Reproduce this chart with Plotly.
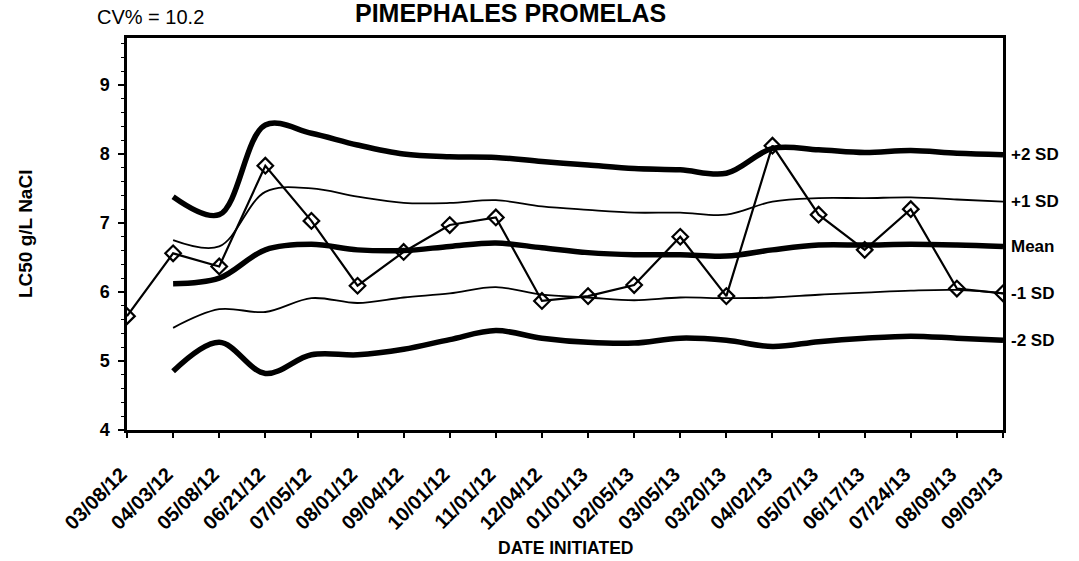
import plotly.graph_objects as go

dates = ["03/08/12", "04/03/12", "05/08/12", "06/21/12", "07/05/12", "08/01/12",
         "09/04/12", "10/01/12", "11/01/12", "12/04/12", "01/01/13", "02/05/13",
         "03/05/13", "03/20/13", "04/02/13", "05/07/13", "06/17/13", "07/24/13",
         "08/09/13", "09/03/13"]

lc50 = [5.65, 6.56, 6.37, 7.83, 7.03, 6.09, 6.58, 6.97, 7.08, 5.87, 5.94, 6.10,
        6.80, 5.94, 8.12, 7.12, 6.61, 7.20, 6.05, 5.98]

ctrl_dates = dates[1:]
plus2 = [7.38, 7.12, 8.42, 8.30, 8.13, 8.00, 7.96, 7.95, 7.89, 7.84, 7.79, 7.77,
         7.72, 8.08, 8.06, 8.02, 8.05, 8.01, 7.99]
plus1 = [6.75, 6.66, 7.45, 7.50, 7.38, 7.29, 7.29, 7.33, 7.24, 7.19, 7.15, 7.15,
         7.12, 7.31, 7.36, 7.36, 7.37, 7.34, 7.31]
mean = [6.12, 6.20, 6.61, 6.69, 6.61, 6.60, 6.66, 6.71, 6.64, 6.57, 6.54, 6.54,
        6.52, 6.61, 6.68, 6.68, 6.69, 6.68, 6.66]
minus1 = [5.48, 5.75, 5.71, 5.91, 5.84, 5.92, 5.98, 6.07, 5.96, 5.92, 5.88, 5.92,
          5.91, 5.92, 5.96, 5.99, 6.02, 6.03, 5.98]
minus2 = [4.85, 5.27, 4.82, 5.09, 5.09, 5.17, 5.31, 5.44, 5.33, 5.27, 5.26, 5.33,
          5.30, 5.21, 5.28, 5.33, 5.36, 5.33, 5.30]

band_labels = ["+2 SD", "+1 SD", "Mean", "-1 SD", "-2 SD"]
band_series = [plus2, plus1, mean, minus1, minus2]
band_widths = [5.5, 1.8, 5.5, 1.8, 5.5]

FONT = "Liberation Sans, Arial, sans-serif"

fig = go.Figure()
for name, vals, w in zip(band_labels, band_series, band_widths):
    fig.add_trace(go.Scatter(x=ctrl_dates, y=vals, mode="lines", name=name,
                             line=dict(color="black", width=w, shape="spline", smoothing=1.0),
                             hoverinfo="skip"))

fig.add_trace(go.Scatter(x=dates, y=lc50, mode="lines+markers", name="LC50",
                         line=dict(color="black", width=2.2),
                         marker=dict(symbol="diamond-open", size=12, color="black",
                                     line=dict(color="black", width=2.2))))

for name, vals in zip(band_labels, band_series):
    fig.add_annotation(x=1, xref="paper", y=vals[-1], yref="y", text="<b>" + name + "</b>",
                       showarrow=False, xanchor="left", xshift=6,
                       font=dict(family=FONT, size=17, color="black"))

fig.add_annotation(x=0.438, xref="paper", y=1.063, yref="paper",
                   text="<b>PIMEPHALES PROMELAS</b>", showarrow=False,
                   xanchor="center", yanchor="middle",
                   font=dict(family=FONT, size=25, color="black"))
fig.add_annotation(x=-0.036, xref="paper", y=1.054, yref="paper", text="CV% = 10.2",
                   showarrow=False, xanchor="left", yanchor="middle",
                   font=dict(family=FONT, size=20, color="black"))
fig.add_annotation(x=0.5, xref="paper", y=-0.301, yref="paper",
                   text="<b>DATE INITIATED</b>", showarrow=False,
                   xanchor="center", yanchor="middle",
                   font=dict(family=FONT, size=17.5, color="black"))
fig.add_annotation(x=-0.1164, xref="paper", y=0.5, yref="paper",
                   text="<b>LC50 g/L NaCl</b>", showarrow=False, textangle=-90,
                   xanchor="center", yanchor="middle",
                   font=dict(family=FONT, size=19, color="black"))

fig.update_layout(
    width=1079, height=561,
    margin=dict(l=127, r=76, t=38, b=131, autoexpand=False),
    plot_bgcolor="white", paper_bgcolor="white",
    showlegend=False,
    font=dict(family=FONT, color="black"),
    xaxis=dict(type="category", categoryorder="array", categoryarray=dates,
               range=[0, len(dates) - 1], showgrid=False, zeroline=False,
               showline=True, linecolor="black", linewidth=2.5, mirror=True,
               ticks="outside", ticklen=5, tickwidth=1.5, tickcolor="black",
               tickangle=-45, automargin=False,
               ticklabelstandoff=17, ticklabelshift=-6,
               tickfont=dict(family=FONT, size=20, color="black", weight="bold")),
    yaxis=dict(range=[4, 9.68], showgrid=False, zeroline=False,
               showline=True, linecolor="black", linewidth=2.5, mirror=True,
               tickvals=[4, 5, 6, 7, 8, 9], ticks="outside", ticklen=6,
               tickwidth=1.5, tickcolor="black", automargin=False,
               ticklabelstandoff=5,
               minor=dict(dtick=0.2, ticks="outside", ticklen=3, tickcolor="black", tickwidth=1),
               tickfont=dict(family=FONT, size=18, color="black", weight="bold")),
)

fig.write_html("out.html", config={"displayModeBar": False},
               post_script="document.body.style.margin='0px';")
